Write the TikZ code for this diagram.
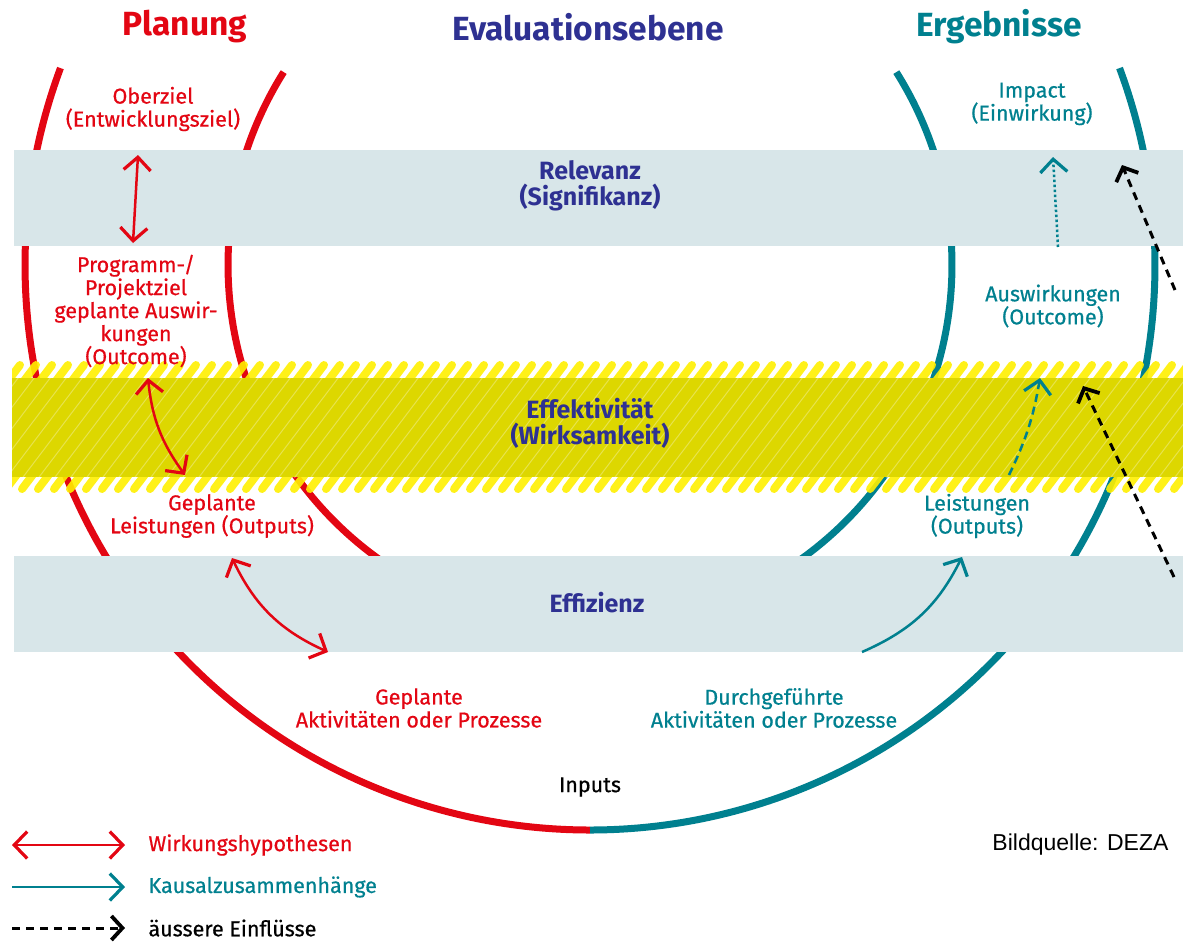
\documentclass[tikz,border=0pt]{standalone}
\usepackage{fontspec}
\setmainfont{Fira Sans}
\newfontfamily\labfont{Fira Sans}[FakeBold=0.6]
\newfontfamily\srcfont{Liberation Sans}
\usetikzlibrary{arrows.meta}
\usetikzlibrary{calc}
\definecolor{dezared}{HTML}{E30613}
\definecolor{dezateal}{HTML}{00808F}
\definecolor{dezanavy}{HTML}{2E3192}
\definecolor{bandgray}{HTML}{D8E6E9}
\definecolor{hatchyellow}{HTML}{FFEF00}
\definecolor{solidyellow}{HTML}{DDD700}

\begin{document}
\begin{tikzpicture}[x=1pt,y=1pt]
\tikzset{title/.style={font=\bfseries\fontsize{33.5}{33.5}\selectfont},
  lab/.style={font=\labfont\fontsize{21.5}{23}\selectfont, align=center},
  bandlab/.style={font=\bfseries\fontsize{25}{26}\selectfont, text=dezanavy, align=center},
  ring/.style={line width=7pt},
  hyp/.style={dezared, line width=2.5pt, {Straight Barb[length=13pt,width=27pt,line width=3.2pt]}-{Straight Barb[length=13pt,width=27pt,line width=3.2pt]}},
  kaus/.style={dezateal, line width=2.5pt, -{Straight Barb[length=13pt,width=27pt,line width=3.2pt]}},
  infl/.style={black, line width=3pt, dash pattern=on 8pt off 6pt, -{Straight Barb[length=11pt,width=24pt,line width=3.8pt]}}}

\useasboundingbox (0,0) rectangle (1183,-943);

% rings
\coordinate (c) at (590,-265);
\draw[ring, dezared] ($(c)+(159.6:565)$) arc[start angle=159.6, end angle=270, radius=565];
\draw[ring, dezateal] ($(c)+(20.4:565)$) arc[start angle=20.4, end angle=-90, radius=565];
\draw[ring, dezared] ($(c)+(147.8:362)$) arc[start angle=147.8, end angle=245, radius=362];
\draw[ring, dezateal] ($(c)+(32.2:362)$) arc[start angle=32.2, end angle=-65, radius=362];

% bands
\fill[bandgray] (14,-150) rectangle (1183,-246);
\fill[bandgray] (14,-556) rectangle (1183,-652);
\begin{scope}
\clip (12,-355) rectangle (1183,-500);
\foreach \i in {0,...,80}
  \draw[hatchyellow, opacity=0.9, line width=8pt, line cap=round] (\i*16-90,-489) -- ++(94,124);
\end{scope}
\fill[solidyellow] (12,-378) rectangle (1183,-477);
\begin{scope}
\clip (12,-378) rectangle (1183,-477);
\foreach \i in {0,...,80}
  \draw[white, opacity=0.3, line width=1pt] (\i*16-82,-489) -- ++(94,124);
\end{scope}

% titles
\node[title, text=dezared] (plan) at (185,-27) {Planung};
\node[title, text=dezanavy] (evalu) at (588,-27) {Evaluationsebene};
\node[title, text=dezateal] (ergeb) at (999,-27) {Ergebnisse};

\node[bandlab] (relev) at (590,-186) {Relevanz\\(Signifikanz)};
\node[bandlab] (effekt) at (590,-423) {Effektivität\\(Wirksamkeit)};
\node[bandlab] (effiz) at (597,-603) {Effizienz};

% planning side
\node[lab, text=dezared] (ober) at (153,-109) {Oberziel\\(Entwicklungsziel)};
\node[lab, text=dezared] (prog) at (136,-311) {Programm-/\\Projektziel\\geplante Auswir-\\kungen\\(Outcome)};
\node[lab, text=dezared] (gleist) at (212,-516) {Geplante\\Leistungen (Outputs)};
\node[lab, text=dezared] (gakt) at (419,-708) {Geplante\\Aktivitäten oder Prozesse};
\node[lab, text=black] (inputs) at (590,-787) {Inputs};

% results side
\node[lab, text=dezateal] (dakt) at (774,-708) {Durchgeführte\\Aktivitäten oder Prozesse};
\node[lab, text=dezateal] (leist) at (977,-516) {Leistungen\\(Outputs)};
\node[lab, text=dezateal] (ausw) at (1053,-306) {Auswirkungen\\(Outcome)};
\node[lab, text=dezateal] (impact) at (1032,-104) {Impact\\(Einwirkung)};

\coordinate (h1a) at (138,-155);
\coordinate (h1b) at (133,-243);
\coordinate (h2a) at (148,-378);
\coordinate (h2b) at (185,-475);
\coordinate (h3a) at (232,-558);
\coordinate (h3b) at (328,-652);
\draw[hyp] (h1a) -- (h1b);
\draw[hyp] (h2a) to[bend right=15] (h2b);
\draw[hyp] (h3a) to[bend right=20] (h3b);

\coordinate (k1a) at (862,-652);
\coordinate (k1b) at (962,-557);
\coordinate (k2a) at (1009,-475);
\coordinate (k2b) at (1040,-378);
\coordinate (k3a) at (1058,-247);
\coordinate (k3b) at (1053,-157);
\draw[kaus] (k1a) to[bend right=20] (k1b);
\draw[kaus, dash pattern=on 8pt off 5pt] (k2a) to[bend right=8] (k2b);
\draw[kaus, dash pattern=on 2.5pt off 2.5pt] (k3a) -- (k3b);

\coordinate (e1a) at (1175,-290);
\coordinate (e1b) at (1122,-165);
\coordinate (e2a) at (1174,-577);
\coordinate (e2b) at (1083,-386);
\draw[infl] (e1a) -- (e1b);
\draw[infl] (e2a) -- (e2b);

% legend
\coordinate (l1a) at (12,-845);
\coordinate (l1b) at (125,-845);
\coordinate (l2a) at (12,-887);
\coordinate (l2b) at (125,-887);
\coordinate (l3a) at (12,-928);
\coordinate (l3b) at (125,-928);
\draw[hyp] (l1a) -- (l1b);
\draw[kaus] (l2a) -- (l2b);
\draw[infl] (l3a) -- (l3b);
\node[lab, text=dezared, anchor=west] (l1) at (145,-845) {Wirkungshypothesen};
\node[lab, text=dezateal, anchor=west] (l2) at (145,-887) {Kausalzusammenhänge};
\node[lab, text=black, anchor=west] (l3) at (145,-928) {äussere Einflüsse};

\node[font=\srcfont\fontsize{23}{23}\selectfont, anchor=east] (src) at (1172,-845) {Bildquelle: DEZA};
\end{tikzpicture}
\end{document}
